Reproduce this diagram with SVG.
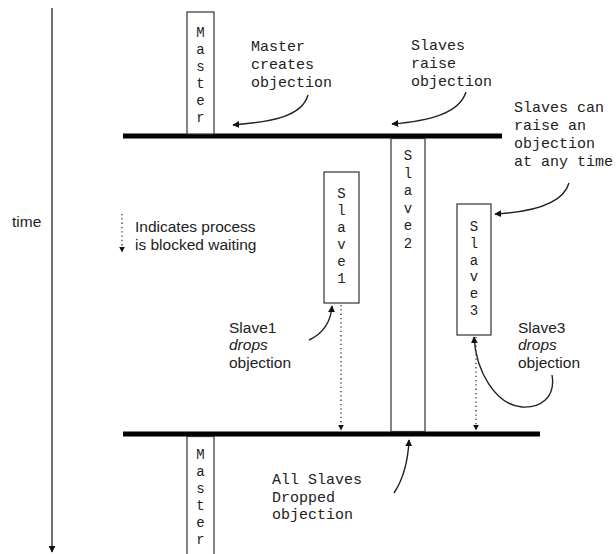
<svg xmlns="http://www.w3.org/2000/svg" width="616" height="554" viewBox="0 0 616 554">
<style>
.mono{font-family:"Liberation Mono","DejaVu Sans Mono",monospace;font-size:15px;fill:#222}
.vert{font-family:"Liberation Mono","DejaVu Sans Mono",monospace;font-size:14px;fill:#222;text-anchor:middle}
.sans{font-family:"Liberation Sans",Arial,sans-serif;font-size:15.5px;fill:#222}
.box{fill:#fff;stroke:#333;stroke-width:1.2}
.bar{stroke:#000;stroke-width:5}
.curve{fill:none;stroke:#222;stroke-width:1.4;marker-end:url(#ah)}
.dot{fill:none;stroke:#333;stroke-width:1.3;stroke-dasharray:1.3 3;marker-end:url(#ahs)}
</style>
<defs>
<marker id="ah" viewBox="0 0 10 10" refX="9" refY="5" markerWidth="7" markerHeight="7" markerUnits="userSpaceOnUse" orient="auto"><path d="M0,0 L10,5 L0,10 z" fill="#111"/></marker>
<marker id="ahs" viewBox="0 0 10 10" refX="9" refY="5" markerWidth="6" markerHeight="6" markerUnits="userSpaceOnUse" orient="auto"><path d="M0,0 L10,5 L0,10 z" fill="#111"/></marker>
<marker id="aht" viewBox="0 0 10 10" refX="9" refY="5" markerWidth="7" markerHeight="7" markerUnits="userSpaceOnUse" orient="auto"><path d="M0,0 L10,5 L0,10 z" fill="#111"/></marker>
</defs>

<g id="time-axis">
<line x1="52" y1="8" x2="52" y2="552" stroke="#222" stroke-width="1.3" marker-end="url(#aht)"/>
<text class="sans" x="12" y="227" font-size="16">time</text>
</g>

<g id="legend">
<line class="dot" x1="122" y1="214" x2="122" y2="252"/>
<text class="sans" x="135" y="232">Indicates process</text>
<text class="sans" x="135" y="250">is blocked waiting</text>
</g>

<g id="objection-raised-bar">
<line class="bar" x1="123" y1="136" x2="502" y2="136"/>
</g>
<g id="objection-dropped-bar">
<line class="bar" x1="123" y1="434" x2="540" y2="434"/>
</g>

<g id="master-top">
<rect class="box" x="187" y="12" width="27" height="122"/>
<text class="vert" x="200.5"><tspan x="200.5" y="37">M</tspan><tspan x="200.5" y="54">a</tspan><tspan x="200.5" y="71">s</tspan><tspan x="200.5" y="88">t</tspan><tspan x="200.5" y="105">e</tspan><tspan x="200.5" y="122">r</tspan></text>
</g>

<g id="master-bottom">
<rect class="box" x="187" y="436.5" width="27" height="125"/>
<text class="vert" x="200.5"><tspan x="200.5" y="459">M</tspan><tspan x="200.5" y="476">a</tspan><tspan x="200.5" y="493">s</tspan><tspan x="200.5" y="510">t</tspan><tspan x="200.5" y="527">e</tspan><tspan x="200.5" y="544">r</tspan></text>
</g>

<g id="slave1">
<rect class="box" x="324" y="172" width="35" height="131"/>
<text class="vert" x="341.5"><tspan x="341.5" y="198">S</tspan><tspan x="341.5" y="215">l</tspan><tspan x="341.5" y="232">a</tspan><tspan x="341.5" y="249">v</tspan><tspan x="341.5" y="266">e</tspan><tspan x="341.5" y="283">1</tspan></text>
</g>

<g id="slave2">
<rect class="box" x="391" y="138.5" width="34" height="293"/>
<text class="vert" x="408"><tspan x="408" y="160">S</tspan><tspan x="408" y="177.5">l</tspan><tspan x="408" y="195">a</tspan><tspan x="408" y="212.5">v</tspan><tspan x="408" y="230">e</tspan><tspan x="408" y="247.5">2</tspan></text>
</g>

<g id="slave3">
<rect class="box" x="457" y="204" width="34" height="131"/>
<text class="vert" x="474"><tspan x="474" y="231">S</tspan><tspan x="474" y="247.8">l</tspan><tspan x="474" y="264.6">a</tspan><tspan x="474" y="281.4">v</tspan><tspan x="474" y="298.2">e</tspan><tspan x="474" y="315">3</tspan></text>
</g>

<g id="note-master-creates">
<text class="mono"><tspan x="251" y="51">Master</tspan><tspan x="251" y="69">creates</tspan><tspan x="251" y="87">objection</tspan></text>
</g>
<g id="note-slaves-raise">
<text class="mono"><tspan x="411" y="50">Slaves</tspan><tspan x="411" y="68">raise</tspan><tspan x="411" y="86">objection</tspan></text>
</g>
<g id="note-any-time">
<text class="mono"><tspan x="514" y="112">Slaves can</tspan><tspan x="514" y="130">raise an</tspan><tspan x="514" y="148">objection</tspan><tspan x="514" y="166">at any time</tspan></text>
</g>
<g id="note-all-dropped">
<text class="mono"><tspan x="272" y="484">All Slaves</tspan><tspan x="272" y="502">Dropped</tspan><tspan x="272" y="519">objection</tspan></text>
</g>
<g id="note-slave1-drops">
<text class="sans" font-size="15"><tspan x="229" y="333">Slave1</tspan><tspan x="229" y="350" font-style="italic">drops</tspan><tspan x="229" y="368">objection</tspan></text>
</g>
<g id="note-slave3-drops">
<text class="sans" font-size="15"><tspan x="518" y="333">Slave3</tspan><tspan x="518" y="350" font-style="italic">drops</tspan><tspan x="518" y="368">objection</tspan></text>
</g>

<g id="connectors">
<path class="curve" d="M308,95 C302,117 270,122 233,125"/>
<path class="curve" d="M466,92 C459,114 428,121 392,124"/>
<path class="curve" d="M569,183 C563,204 532,212 495,214"/>
<path class="curve" d="M309,340 C324,333 331,320 332,306"/>
<path class="curve" d="M394,493 C404,478 408,462 409,440"/>
<path class="curve" d="M552,375 C556,398 540,408 522,407 C496,405 476,372 474,337"/>
<line class="dot" x1="341" y1="305" x2="341" y2="430"/>
<line class="dot" x1="476" y1="337" x2="476" y2="430"/>
</g>
</svg>
